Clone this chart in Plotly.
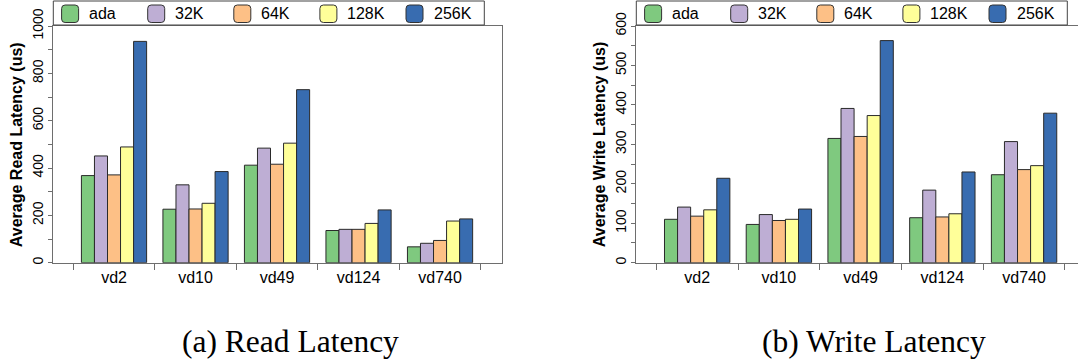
import plotly.graph_objects as go

W, H = 1078, 364

categories = ["vd2", "vd10", "vd49", "vd124", "vd740"]
series_names = ["ada", "32K", "64K", "128K", "256K"]
series_colors = ["#7FC97F", "#BEAED4", "#FDC086", "#FFFF99", "#386CB0"]

# Read latency (us)
read_ada = [368, 226, 412, 136, 67]
read_32k = [451, 329, 484, 141, 82]
read_64k = [371, 227, 416, 141, 94]
read_128k = [489, 251, 505, 166, 176]
read_256k = [935, 385, 731, 223, 185]

# Write latency (us)
write_ada = [110, 97, 315, 114, 223]
write_32k = [141, 122, 391, 184, 307]
write_64k = [118, 107, 320, 116, 236]
write_128k = [134, 110, 373, 124, 246]
write_256k = [214, 136, 563, 230, 379]

read_series = [read_ada, read_32k, read_64k, read_128k, read_256k]
write_series = [write_ada, write_32k, write_64k, write_128k, write_256k]

y_titles = ["Average Read Latency (us)", "Average Write Latency (us)"]
captions = ["(a) Read Latency", "(b) Write Latency"]

LINE = "#6e6e6e"
SANS = "Liberation Sans, Arial, Helvetica, sans-serif"
SERIF = "Liberation Serif, Times New Roman, serif"

def px(x):
    return x / W

def py(y):
    return 1 - y / H

fig = go.Figure()

for i, (name, color) in enumerate(zip(series_names, series_colors)):
    fig.add_trace(go.Bar(x=categories, y=read_series[i], name=name,
                         marker=dict(color=color, line=dict(color="#2a2a2a", width=1)),
                         xaxis="x", yaxis="y", showlegend=False))
    fig.add_trace(go.Bar(x=categories, y=write_series[i], name=name,
                         marker=dict(color=color, line=dict(color="#2a2a2a", width=1)),
                         xaxis="x2", yaxis="y2", showlegend=False))

axis1_left, axis1_right = 53.3, 501.5
axis2_left = 636.3
plot_top, plot_bottom = 26.0, 262.7

common_x = dict(type="category", showline=True, linecolor=LINE, linewidth=1,
                ticks="outside", ticklen=6, tickcolor=LINE, tickwidth=1,
                tickson="boundaries", showgrid=False, zeroline=False, automargin=False,
                tickfont=dict(family=SANS, size=16, color="black"))
common_y = dict(showline=True, linecolor=LINE, linewidth=1, ticks="outside",
                ticklen=4, tickcolor=LINE, tickwidth=1, tickangle=-90,
                showgrid=False, zeroline=False, automargin=False,
                domain=[py(plot_bottom), py(plot_top)],
                tickfont=dict(family=SANS, size=14, color="black"))

fig.update_layout(
    template="none",
    width=W, height=H,
    margin=dict(l=0, r=0, t=0, b=0, pad=0),
    paper_bgcolor="white", plot_bgcolor="white",
    barmode="group", bargap=0.2, bargroupgap=0,
    xaxis=dict(common_x, domain=[px(axis1_left), px(axis1_right)], anchor="y",
               mirror=True, range=[-0.745, 4.754]),
    yaxis=dict(common_y, anchor="x", mirror=True, range=[0, 1000], dtick=200,
               minor=dict(dtick=100, ticks="outside", ticklen=4, tickcolor=LINE)),
    xaxis2=dict(common_x, domain=[px(axis2_left), 1.0], anchor="y2",
                mirror=True, range=[-0.745, 4.66]),
    yaxis2=dict(common_y, anchor="x2", mirror=False, range=[0, 600], dtick=100,
                minor=dict(dtick=50, ticks="outside", ticklen=4, tickcolor=LINE)),
    showlegend=False,
)

shapes = []
annotations = []
for p, axis_left in enumerate([axis1_left, axis2_left]):
    # y-axis title
    annotations.append(dict(text="<b>%s</b>" % y_titles[p], xref="paper", yref="paper",
                            x=px(axis_left - 36.5), y=py((plot_top + plot_bottom) / 2),
                            textangle=-90, showarrow=False, xanchor="center", yanchor="middle",
                            font=dict(family=SANS, size=16, color="black")))
    # caption
    annotations.append(dict(text=captions[p], xref="paper", yref="paper",
                            x=px(290.8 + p * (axis2_left - axis1_left)), y=py(341),
                            showarrow=False, xanchor="center", yanchor="middle",
                            font=dict(family=SERIF, size=31.5, color="black")))
    # legend box
    shapes.append(dict(type="rect", xref="paper", yref="paper",
                       x0=px(axis_left), x1=px(axis_left + 431), y0=py(25), y1=py(1),
                       line=dict(color="#444444", width=1), fillcolor="white", layer="above"))
    for k, (name, color) in enumerate(zip(series_names, series_colors)):
        sx0 = axis_left + 8.3 + k * 86.1
        sx1 = sx0 + 17
        sy0, sy1 = 5, 22.5
        r = 3.5
        path = ("M {a},{b} L {c},{b} Q {d},{b} {d},{e} L {d},{f} Q {d},{g} {c},{g} "
                "L {a},{g} Q {h},{g} {h},{f} L {h},{e} Q {h},{b} {a},{b} Z").format(
            a=px(sx0 + r), b=py(sy0), c=px(sx1 - r), d=px(sx1), e=py(sy0 + r),
            f=py(sy1 - r), g=py(sy1), h=px(sx0))
        shapes.append(dict(type="path", path=path, xref="paper", yref="paper",
                           line=dict(color="#333333", width=1), fillcolor=color, layer="above"))
        annotations.append(dict(text=name, xref="paper", yref="paper",
                                x=px(sx0 + 25.5), y=py(13.5), showarrow=False,
                                xanchor="left", yanchor="middle",
                                font=dict(family=SANS, size=16, color="black")))

fig.update_layout(shapes=shapes, annotations=annotations)

fig.write_html("out.html",
               config={"displayModeBar": False, "staticPlot": True},
               post_script="document.body.style.margin='0';document.body.style.overflow='hidden';")
